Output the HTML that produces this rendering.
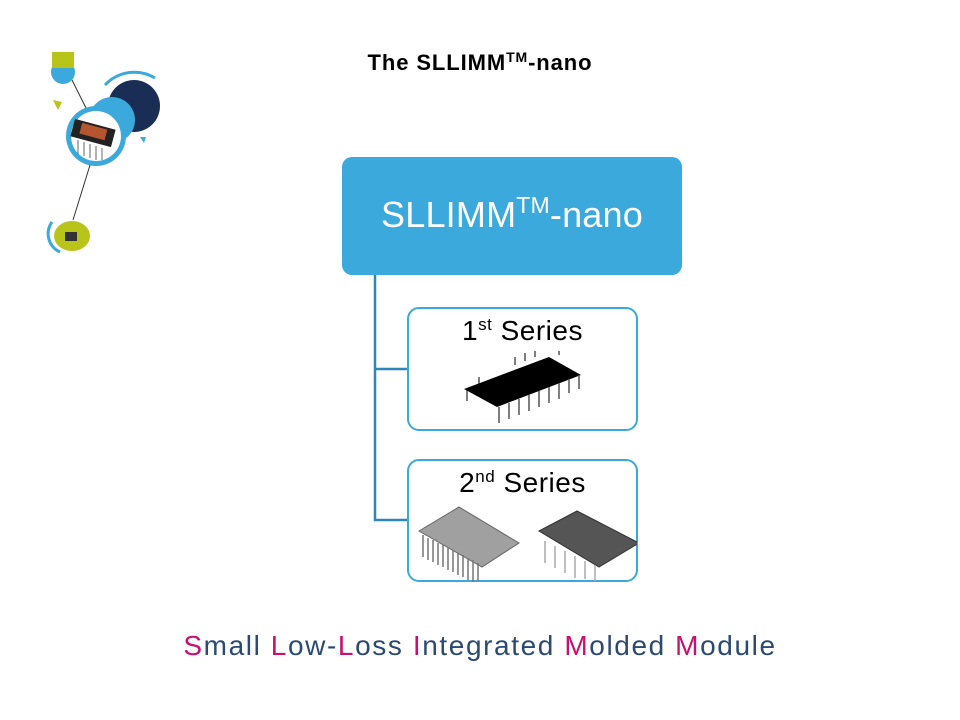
<!DOCTYPE html>
<html><head><meta charset="utf-8"><style>
body{margin:0;width:960px;height:720px;background:#fff;position:relative;overflow:hidden;font-family:"Liberation Sans",sans-serif}
.abs{position:absolute}
.box{position:absolute;border:2.5px solid #3ba9db;border-radius:12px;background:#fff;box-sizing:border-box}
.lbl{position:absolute;width:100%;text-align:center;font-size:28px;color:#000;letter-spacing:0.5px}
sup{font-size:17px;vertical-align:10px}
.m{color:#c8106e}
</style></head><body>
<div class="abs" style="left:0;top:49px;width:960px;text-align:center;font-weight:bold;font-size:22px;letter-spacing:0.9px">The SLLIMM<sup style="font-size:14px;vertical-align:8px">TM</sup>-nano</div>

<svg class="abs" style="left:0;top:0" width="960" height="720">
 <circle cx="134" cy="106" r="26" fill="#1a2d55"/>
 <path d="M105 85 A40 40 0 0 1 155 78" stroke="#3ba9db" stroke-width="3" fill="none"/>
 <circle cx="112" cy="120" r="23" fill="#3ba9db"/>
 <circle cx="96" cy="136" r="30" fill="#3ba9db"/>
 <circle cx="96" cy="136" r="25" fill="#fff"/>
 <rect x="72" y="124" width="42" height="18" fill="#222" transform="rotate(15 93 133)"/>
 <rect x="80" y="126" width="26" height="11" fill="#b5542e" transform="rotate(15 93 133)"/>
 <g stroke="#666"><path d="M78 140 v14 M84 142 v14 M90 144 v14 M96 146 v14 M102 148 v12"/></g>
 <circle cx="63" cy="72" r="12" fill="#3ba9db"/>
 <rect x="52" y="52" width="22" height="16" fill="#b8c41a"/>
 <line x1="72" y1="80" x2="86" y2="108" stroke="#333"/>
 <line x1="90" y1="165" x2="73" y2="220" stroke="#333"/>
 <ellipse cx="72" cy="236" rx="18" ry="15" fill="#b8c41a"/>
 <path d="M52 222 A20 20 0 0 0 60 252" stroke="#3ba9db" stroke-width="3" fill="none"/>
 <rect x="65" y="232" width="12" height="9" fill="#333"/>
 <polygon points="53,100 62,102 58,110" fill="#b8c41a"/>
 <polygon points="140,137 146,137 144,143" fill="#3ba9db"/>
 <path d="M375 275 V520 H408 M375 369 H408" stroke="#2f86b8" stroke-width="2.5" fill="none"/>
</svg>

<div class="abs" style="left:342px;top:157px;width:340px;height:118px;background:#3ba9db;border-radius:10px;"></div>
<div class="abs" style="left:342px;top:192px;width:340px;text-align:center;color:#fff;font-size:36px;letter-spacing:0.2px">SLLIMM<sup style="font-size:23px;vertical-align:14px">TM</sup>-nano</div>

<div class="box" style="left:407px;top:307px;width:231px;height:124px;">
 <div class="lbl" style="top:6px">1<sup>st</sup> Series</div>
 <svg class="abs" style="left:50px;top:42px" width="130" height="75">
  <g stroke="#555" stroke-width="1.5" fill="none">
   <path d="M8 38 v12 M20 34 v-8 M56 14 v-8 M66 10 v-8 M76 6 v-6 M100 4 v-4"/>
  </g>
  <polygon points="5,38 90,6 122,24 38,56" fill="#000"/>
  <g stroke="#555" stroke-width="1.5" fill="none">
   <path d="M40 56 v16 M50 52 v16 M60 48 v16 M70 44 v16 M80 40 v16 M90 36 v16 M100 32 v16 M110 28 v14 M120 24 v14"/>
  </g>
 </svg>
</div>

<div class="box" style="left:407px;top:459px;width:231px;height:123px;">
 <div class="lbl" style="top:6px">2<sup>nd</sup> Series</div>
 <svg class="abs" style="left:8px;top:44px" width="220" height="78">
  <polygon points="2,26 42,2 102,38 65,62" fill="#a0a0a0" stroke="#666"/>
  <g stroke="#777" stroke-width="1.5"><path d="M6 30 v22 M11 33 v22 M16 35 v22 M21 38 v22 M26 40 v22 M31 43 v22 M36 45 v22 M41 48 v22 M46 50 v22 M51 53 v22 M56 55 v22 M61 58 v18"/></g>
  <polygon points="122,26 160,6 222,38 182,62" fill="#555" stroke="#333"/>
  <g stroke="#aaa" stroke-width="1.5"><path d="M128 36 v22 M138 41 v22 M148 46 v22 M158 51 v22 M168 56 v18 M178 60 v16"/></g>
 </svg>
</div>

<div class="abs" style="left:0;top:630px;width:960px;text-align:center;font-size:28px;color:#2b4a72;letter-spacing:1.6px"><span class="m">S</span>mall <span class="m">L</span>ow-<span class="m">L</span>oss <span class="m">I</span>ntegrated <span class="m">M</span>olded <span class="m">M</span>odule</div>
</body></html>
